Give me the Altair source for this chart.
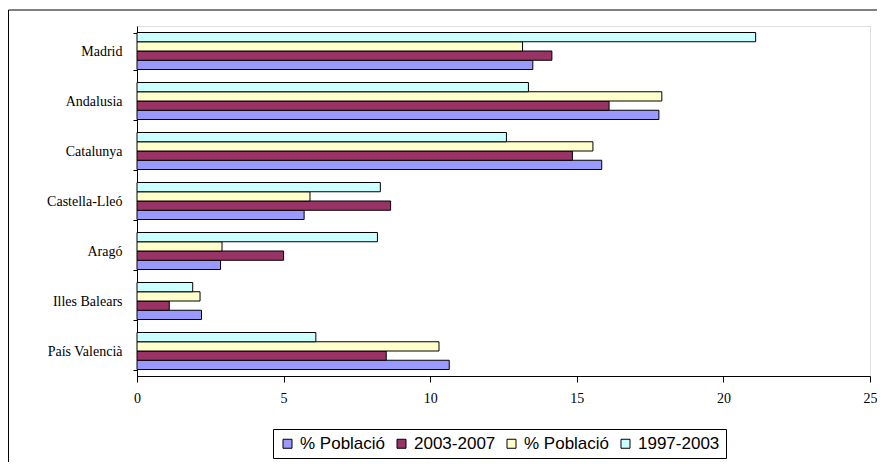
import altair as alt
import pandas as pd

REGIONS = ["Madrid", "Andalusia", "Catalunya", "Castella-Lleó", "Aragó", "Illes Balears", "País Valencià"]
SERIES_KEYS = ["pob_0307", "inc_0307", "pob_9703", "inc_9703"]
SERIES_LABELS = ["% Població", "2003-2007", "% Població", "1997-2003"]
SERIES_COLORS = ["#9999FF", "#993366", "#FFFFCC", "#CCFFFF"]
BAR_ORDER = ["inc_9703", "pob_9703", "inc_0307", "pob_0307"]  # top to bottom in each group

pob_0307 = [13.5, 17.8, 15.85, 5.7, 2.85, 2.2, 10.65]
inc_0307 = [14.15, 16.1, 14.85, 8.65, 5.0, 1.1, 8.5]
pob_9703 = [13.15, 17.9, 15.55, 5.9, 2.9, 2.15, 10.3]
inc_9703 = [21.1, 13.35, 12.6, 8.3, 8.2, 1.9, 6.1]
X_TICKS = [0, 5, 10, 15, 20, 25]

values = {"pob_0307": pob_0307, "inc_0307": inc_0307, "pob_9703": pob_9703, "inc_9703": inc_9703}
rows = []
for key in SERIES_KEYS:
    for reg, v in zip(REGIONS, values[key]):
        rows.append({"region": reg, "series": key, "value": v})
df = pd.DataFrame(rows)

label_expr = " : ".join(
    [f"datum.value == '{k}' ? '{l}'" for k, l in zip(SERIES_KEYS, SERIES_LABELS)]
) + " : datum.value"

PLOT_W = 733
PLOT_H = 350

bars = alt.Chart(df).mark_bar(stroke="black", strokeWidth=1).encode(
    y=alt.Y("region:N", sort=REGIONS, title=None,
            scale=alt.Scale(paddingInner=0.26, paddingOuter=0.13),
            axis=alt.Axis(tickBand="extent", labelFont="Liberation Serif", labelFontSize=14,
                          labelColor="black", domainColor="black", tickColor="black",
                          tickSize=4, labelPadding=11, grid=False)),
    yOffset=alt.YOffset("series:N", sort=BAR_ORDER, scale=alt.Scale(domain=BAR_ORDER, paddingInner=0, paddingOuter=0)),
    x=alt.X("value:Q", title=None,
            scale=alt.Scale(domain=[0, 25], nice=False),
            axis=alt.Axis(values=X_TICKS, labelFont="Liberation Serif", labelFontSize=14,
                          labelColor="black", domainColor="black", tickColor="black",
                          tickSize=6, labelPadding=9, grid=False, labelFlush=False)),
    color=alt.Color("series:N",
                    scale=alt.Scale(domain=SERIES_KEYS, range=SERIES_COLORS),
                    legend=alt.Legend(title=None, orient="none", direction="horizontal",
                                      legendX=136, legendY=403,
                                      labelExpr=label_expr,
                                      labelFont="Liberation Sans", labelFontSize=17,
                                      labelColor="black", labelOffset=4,
                                      symbolType="square", symbolSize=81,
                                      symbolStrokeColor="black", symbolStrokeWidth=1,
                                      symbolOpacity=1, columnPadding=7,
                                      padding=6, strokeColor="black", fillColor="white")),
)

frame_df = pd.DataFrame({"k": [0]})
top_rule = alt.Chart(frame_df).mark_rule(color="black", strokeWidth=1).encode(
    x=alt.value(-128.5), x2=alt.value(900), y=alt.value(-16)
)
left_rule = alt.Chart(frame_df).mark_rule(color="black", strokeWidth=1).encode(
    x=alt.value(-128.5), y=alt.value(-16), y2=alt.value(500)
)

chart = alt.layer(top_rule, left_rule, bars).properties(
    width=PLOT_W, height=PLOT_H,
    autosize=alt.AutoSizeParams(type="none"),
    padding={"left": 129, "top": 18, "right": 7, "bottom": 86},
).configure_view(stroke=None).configure(background="white")

chart.save("out.html", embed_options={"renderer": "svg", "actions": False})
